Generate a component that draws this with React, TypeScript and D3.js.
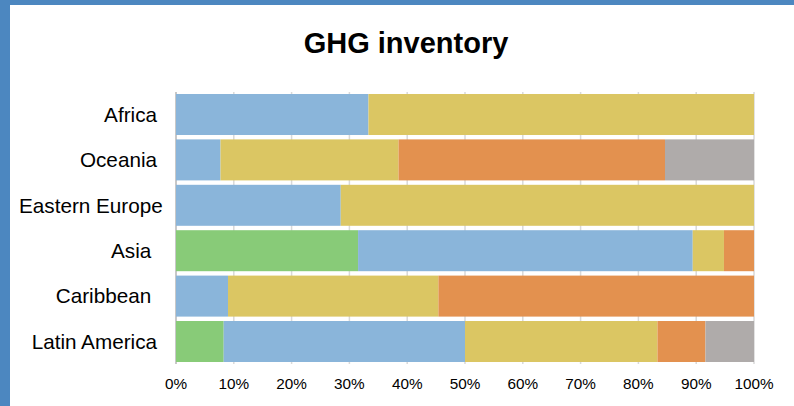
import React, { useEffect, useRef } from "react";
import * as d3 from "d3";

const categories = ["Africa", "Oceania", "Eastern Europe", "Asia ", "Caribbean ", "Latin America"];
const seriesKeys = ["s1", "s2", "s3", "s4", "s5"];
const s1Values = [0, 0, 0, 31.5, 0, 8.25];
const s2Values = [33.3, 7.7, 28.5, 57.9, 9.0, 41.75];
const s3Values = [66.7, 30.8, 71.5, 5.4, 36.4, 33.3];
const s4Values = [0, 46.1, 0, 5.2, 54.6, 8.3];
const s5Values = [0, 15.4, 0, 0, 0, 8.4];
const seriesColors = ["#88CB78", "#8AB5DA", "#DBC663", "#E3914F", "#AFABAA"];
const tickValues = [0, 0.1, 0.2, 0.3, 0.4, 0.5, 0.6, 0.7, 0.8, 0.9, 1];
const title = "GHG inventory";

const W = 794;
const H = 406;
const FONT = "'Liberation Sans', Arial, Helvetica, sans-serif";

export default function App() {
  const ref = useRef<SVGSVGElement>(null);

  useEffect(() => {
    const svg = d3.select(ref.current);
    svg.selectAll("*").remove();

    const rows = categories.map((c, i) => ({
      cat: c,
      s1: s1Values[i],
      s2: s2Values[i],
      s3: s3Values[i],
      s4: s4Values[i],
      s5: s5Values[i],
    }));
    const stacked = d3.stack<any>().keys(seriesKeys).offset(d3.stackOffsetExpand)(rows);

    const x = d3.scaleLinear().domain([0, 1]).range([176, 754]);
    const y = d3
      .scaleBand<string>()
      .domain(categories)
      .range([92, 364])
      .paddingInner(0.097)
      .paddingOuter(0.044);
    const color = d3.scaleOrdinal<string, string>().domain(seriesKeys).range(seriesColors);

    // background + frame
    svg.append("rect").attr("x", 0).attr("y", 0).attr("width", W).attr("height", H).attr("fill", "#ffffff");
    svg.append("rect").attr("x", 0).attr("y", 0).attr("width", W).attr("height", 5).attr("fill", "#4C87C0");
    svg.append("rect").attr("x", 0).attr("y", 0).attr("width", 10).attr("height", H).attr("fill", "#4C87C0");

    // title
    svg
      .append("text")
      .attr("x", 406)
      .attr("y", 53)
      .attr("text-anchor", "middle")
      .attr("font-family", FONT)
      .attr("font-weight", "bold")
      .attr("font-size", 29)
      .attr("fill", "#000")
      .text(title);

    // gridlines
    const [r0, r1] = y.range();
    svg
      .append("g")
      .selectAll("line")
      .data(tickValues)
      .join("line")
      .attr("x1", (d) => x(d))
      .attr("x2", (d) => x(d))
      .attr("y1", r0)
      .attr("y2", r1)
      .attr("stroke", (d) => (d === 0 ? "#C8C8C8" : "#D9D9D9"))
      .attr("stroke-width", (d) => (d === 0 ? 2 : 1.5));

    // bars
    svg
      .append("g")
      .selectAll("g")
      .data(stacked)
      .join("g")
      .attr("fill", (d) => color(d.key))
      .selectAll("rect")
      .data((d) => d)
      .join("rect")
      .attr("x", (d) => x(d[0]))
      .attr("width", (d) => Math.max(0, x(d[1]) - x(d[0])))
      .attr("y", (d: any) => y(d.data.cat)!)
      .attr("height", y.bandwidth());

    // x tick labels
    const fmt = d3.format(".0%");
    svg
      .append("g")
      .selectAll("text")
      .data(tickValues)
      .join("text")
      .attr("x", (d) => x(d))
      .attr("y", 389)
      .attr("text-anchor", "middle")
      .attr("font-family", FONT)
      .attr("font-size", 15.3)
      .attr("fill", "#000")
      .text((d) => fmt(d));

    // category labels
    const labels = svg
      .append("g")
      .selectAll("text")
      .data(categories)
      .join("text")
      .attr("x", 157)
      .attr("y", (d) => y(d)! + y.bandwidth() / 2)
      .attr("dy", "0.35em")
      .attr("text-anchor", "end")
      .attr("font-family", FONT)
      .attr("font-size", 20.7)
      .attr("fill", "#000")
      .style("white-space", "pre")
      .attr("xml:space", "preserve")
      .text((d) => d);

    labels.each(function () {
      const el = this as SVGTextElement;
      const w = el.getComputedTextLength();
      if (157 - w < 19) {
        d3.select(el).attr("text-anchor", "start").attr("x", 19);
      }
    });
  }, []);

  return (
    <svg
      ref={ref}
      width={W}
      height={H}
      style={{ position: "absolute", left: 0, top: 0, display: "block" }}
    />
  );
}
